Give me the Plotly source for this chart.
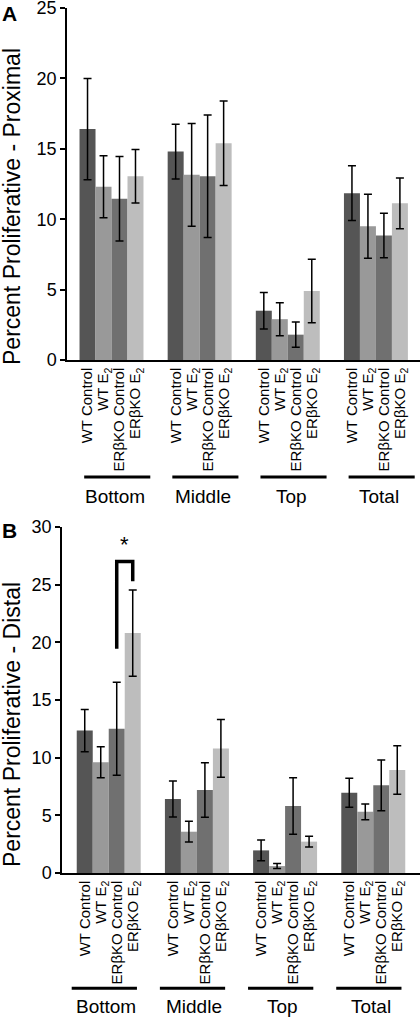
import plotly.graph_objects as go

# ---- data ----
groups = ["Bottom", "Middle", "Top", "Total"]
conditions = ["WT Control", "WT E<sub>2</sub>", "ERβKO Control", "ERβKO E<sub>2</sub>"]
colors = ["#555555", "#999999", "#707070", "#bdbdbd"]

# Panel A: Proximal (mean, SE) per group
prox_wt_ctrl = [16.4, 14.8, 3.5, 11.85]
prox_wt_ctrl_err = [3.6, 1.95, 1.3, 1.95]
prox_wt_e2 = [12.3, 13.15, 2.9, 9.5]
prox_wt_e2_err = [2.2, 3.65, 1.17, 2.27]
prox_ko_ctrl = [11.45, 13.05, 1.8, 8.85]
prox_ko_ctrl_err = [3.0, 4.35, 0.9, 1.58]
prox_ko_e2 = [13.05, 15.4, 4.9, 11.13]
prox_ko_e2_err = [1.9, 3.0, 2.25, 1.8]

# Panel B: Distal
dist_wt_ctrl = [12.35, 6.42, 1.96, 6.96]
dist_wt_ctrl_err = [1.83, 1.56, 0.9, 1.26]
dist_wt_e2 = [9.6, 3.58, 0.6, 5.3]
dist_wt_e2_err = [1.35, 0.9, 0.22, 0.68]
dist_ko_ctrl = [12.5, 7.2, 5.8, 7.6]
dist_ko_ctrl_err = [4.03, 2.36, 2.45, 2.2]
dist_ko_e2 = [20.8, 10.8, 2.72, 8.93]
dist_ko_e2_err = [3.73, 2.5, 0.46, 2.1]

prox_means = [prox_wt_ctrl, prox_wt_e2, prox_ko_ctrl, prox_ko_e2]
prox_errs = [prox_wt_ctrl_err, prox_wt_e2_err, prox_ko_ctrl_err, prox_ko_e2_err]
dist_means = [dist_wt_ctrl, dist_wt_e2, dist_ko_ctrl, dist_ko_e2]
dist_errs = [dist_wt_ctrl_err, dist_wt_e2_err, dist_ko_ctrl_err, dist_ko_e2_err]

# significance bracket (panel B, Bottom: ERβKO Control vs ERβKO E2)
bracket_left_y = 19.45
bracket_top_y = 27.0
bracket_right_y = 25.3
star_y = 28.5

BW = 0.1814  # bar width in group units
FONT = "Liberation Sans, Arial, sans-serif"
W, H = 420, 1019

fig = go.Figure()

def pos(g, i):
    return g + (i - 1.5) * BW

def add_panel(means, errs, xa, ya):
    for i, cond in enumerate(conditions):
        fig.add_trace(go.Bar(
            x=[pos(g, i) for g in range(len(groups))],
            y=means[i],
            width=BW,
            marker=dict(color=colors[i], line=dict(width=0)),
            error_y=dict(type="data", array=errs[i], color="black",
                         thickness=1.5, width=4),
            name=cond, showlegend=False,
            xaxis=xa, yaxis=ya,
        ))

add_panel(prox_means, prox_errs, "x", "y")
add_panel(dist_means, dist_errs, "x2", "y2")

tickvals = [pos(g, i) for g in range(len(groups)) for i in range(len(conditions))]
ticktext = [conditions[i] for g in range(len(groups)) for i in range(len(conditions))]

common_x = dict(showline=True, linecolor="black", linewidth=1.5, ticks="",
                tickvals=tickvals, ticktext=ticktext, tickangle=-90,
                tickfont=dict(family=FONT, size=15, color="black"),
                showgrid=False, zeroline=False, fixedrange=True, automargin=False,
                ticklabeloverflow="allow")
common_y = dict(showline=True, linecolor="black", linewidth=1.5, ticks="outside",
                ticklen=5, tickwidth=1.5, tickcolor="black", dtick=5,
                tickfont=dict(family=FONT, size=18, color="black"),
                showgrid=False, zeroline=False, automargin=False,
                ticklabeloverflow="allow")

fig.update_layout(
    template="none",
    width=W, height=H,
    margin=dict(l=0, r=0, t=0, b=0, autoexpand=False),
    paper_bgcolor="white", plot_bgcolor="white",
    barmode="overlay",
    font=dict(family=FONT, color="black"),
    xaxis=dict(domain=[67 / W, 1], range=[-0.505, 3.5], anchor="y", **common_x),
    yaxis=dict(domain=[1 - 360 / H, 1 - 8 / H], range=[0, 25], anchor="x", **common_y),
    xaxis2=dict(domain=[62 / W, 1], range=[-0.53, 3.53], anchor="y2", **common_x),
    yaxis2=dict(domain=[1 - 873 / H, 1 - 527 / H], range=[0, 30], anchor="x2", **common_y),
)

ann = []
# y-axis titles
ann.append(dict(text="Percent Proliferative - Proximal", x=12 / W, y=1 - 207 / H,
                xref="paper", yref="paper", textangle=-90, showarrow=False,
                xanchor="center", yanchor="middle",
                font=dict(family=FONT, size=23, color="black")))
ann.append(dict(text="Percent Proliferative - Distal", x=12 / W, y=1 - 725 / H,
                xref="paper", yref="paper", textangle=-90, showarrow=False,
                xanchor="center", yanchor="middle",
                font=dict(family=FONT, size=23, color="black")))
# panel letters
ann.append(dict(text="<b>A</b>", x=0, y=1, xref="paper", yref="paper",
                showarrow=False, xanchor="left", yanchor="top",
                font=dict(family=FONT, size=21, color="black")))
ann.append(dict(text="<b>B</b>", x=9 / W, y=1 - 530 / H, xref="paper", yref="paper",
                showarrow=False, xanchor="center", yanchor="middle",
                font=dict(family=FONT, size=21, color="black")))

shapes = []
# group labels + underlines
for g, name in enumerate(groups):
    ann.append(dict(text=name, x=g + 0.04, y=1 - 496 / H, xref="x", yref="paper",
                    showarrow=False, xanchor="center", yanchor="middle",
                    font=dict(family=FONT, size=19, color="black")))
    shapes.append(dict(type="line", xref="x", yref="paper", x0=g - 0.31, x1=g + 0.44,
                       y0=1 - 477 / H, y1=1 - 477 / H,
                       line=dict(color="black", width=3)))
    ann.append(dict(text=name, x=g - 0.03, y=1 - 1006.7 / H, xref="x2", yref="paper",
                    showarrow=False, xanchor="center", yanchor="middle",
                    font=dict(family=FONT, size=19, color="black")))
    shapes.append(dict(type="line", xref="x2", yref="paper", x0=g - 0.42, x1=g + 0.32,
                       y0=1 - 988.3 / H, y1=1 - 988.3 / H,
                       line=dict(color="black", width=3)))

# significance bracket
xl, xr = pos(0, 2), pos(0, 3)
shapes.append(dict(type="path", xref="x2", yref="y2",
                   path=f"M {xl},{bracket_left_y} L {xl},{bracket_top_y} L {xr},{bracket_top_y} L {xr},{bracket_right_y}",
                   line=dict(color="black", width=3.5)))
ann.append(dict(text="*", x=(xl + xr) / 2, y=star_y, xref="x2", yref="y2",
                showarrow=False, xanchor="center", yanchor="middle",
                font=dict(family=FONT, size=22, color="black")))

fig.update_layout(annotations=ann, shapes=shapes)

fig.write_html(
    "out.html",
    config={"displayModeBar": False, "responsive": False},
    post_script="document.body.style.margin='0px';document.body.style.padding='0px';"
                "document.documentElement.style.overflow='hidden';document.body.style.overflow='hidden';",
)
